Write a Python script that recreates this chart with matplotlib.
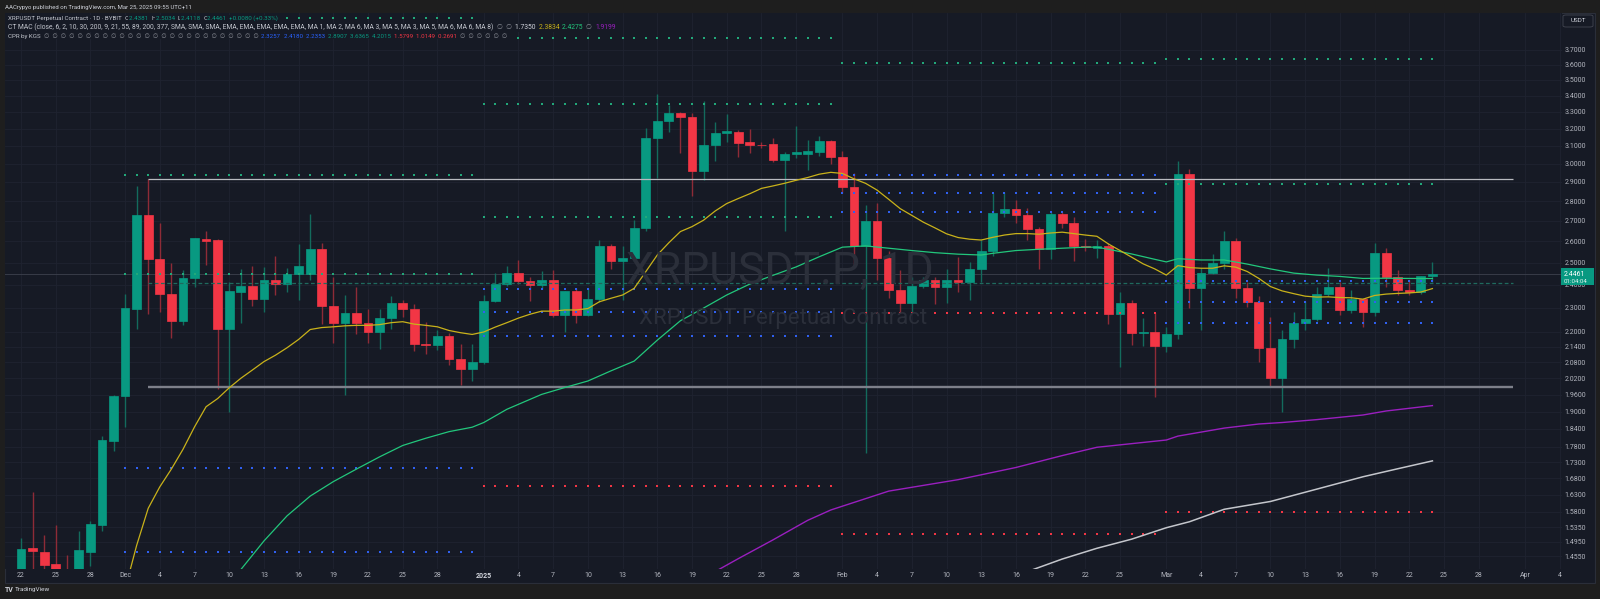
import numpy as np
import pandas as pd
import matplotlib
matplotlib.use("Agg")
import matplotlib.pyplot as plt
from matplotlib.patches import Rectangle, FancyBboxPatch
from matplotlib.ticker import NullLocator, NullFormatter, FixedLocator, FixedFormatter

plt.rcParams['font.family'] = ['Roboto', 'DejaVu Sans']

# ---------------- DATA ----------------
start_date = "2024-11-22"
opens = [1.360, 1.478, 1.467, 1.434, 1.400, 1.390, 1.467, 1.543, 1.801, 1.954,
         2.297, 2.727, 2.515, 2.359, 2.246, 2.428, 2.612, 2.604, 2.213, 2.370,
         2.395, 2.339, 2.422, 2.402, 2.448, 2.447, 2.565, 2.307, 2.235, 2.278,
         2.235, 2.201, 2.258, 2.322, 2.297, 2.153, 2.147, 2.182, 2.092, 2.056,
         2.083, 2.330, 2.402, 2.454, 2.418, 2.397, 2.419, 2.270, 2.373, 2.270,
         2.339, 2.577, 2.508, 2.523, 2.666, 3.142, 3.245, 3.291, 3.268, 2.959,
         3.104, 3.175, 3.182, 3.120, 3.107, 3.108, 3.020, 3.055, 3.054, 3.066,
         3.128, 3.037, 2.876, 2.579, 2.699, 2.523, 2.379, 2.322, 2.395, 2.419,
         2.391, 2.422, 2.413, 2.471, 2.556, 2.738, 2.761, 2.727, 2.659, 2.563,
         2.736, 2.687, 2.576, 2.570, 2.576, 2.275, 2.322, 2.195, 2.200, 2.144,
         2.191, 2.941, 2.384, 2.454, 2.496, 2.601, 2.384, 2.326, 2.137, 2.020,
         2.172, 2.238, 2.252, 2.358, 2.388, 2.291, 2.336, 2.283, 2.545, 2.435,
         2.378, 2.370, 2.4381]
highs = [1.504, 1.639, 1.514, 1.541, 1.460, 1.525, 1.553, 1.818, 1.960, 2.358,
         2.879, 2.914, 2.690, 2.499, 2.466, 2.618, 2.651, 2.609, 2.414, 2.470,
         2.484, 2.480, 2.532, 2.473, 2.587, 2.732, 2.590, 2.436, 2.355, 2.390,
         2.294, 2.294, 2.352, 2.333, 2.316, 2.242, 2.206, 2.194, 2.152, 2.152,
         2.355, 2.451, 2.484, 2.510, 2.435, 2.461, 2.466, 2.373, 2.384, 2.385,
         2.606, 2.585, 2.577, 2.703, 3.205, 3.408, 3.343, 3.300, 3.290, 3.367,
         3.241, 3.285, 3.190, 3.198, 3.120, 3.142, 3.066, 3.216, 3.132, 3.154,
         3.134, 3.072, 2.951, 2.781, 2.788, 2.556, 2.466, 2.435, 2.435, 2.435,
         2.470, 2.526, 2.502, 2.606, 2.842, 2.845, 2.805, 2.763, 2.667, 2.745,
         2.745, 2.717, 2.612, 2.605, 2.590, 2.366, 2.333, 2.256, 2.277, 2.221,
         3.015, 2.970, 2.475, 2.542, 2.649, 2.618, 2.414, 2.350, 2.260, 2.210,
         2.281, 2.330, 2.391, 2.476, 2.414, 2.377, 2.340, 2.593, 2.567, 2.466,
         2.423, 2.440, 2.5034]
lows = [1.330, 1.400, 1.410, 1.380, 1.330, 1.370, 1.430, 1.526, 1.767, 1.847,
        2.214, 2.273, 2.283, 2.174, 2.228, 2.388, 2.487, 1.980, 1.899, 2.235,
        2.309, 2.283, 2.355, 2.367, 2.333, 2.423, 2.232, 2.157, 1.958, 2.190,
        2.157, 2.131, 2.214, 2.260, 2.125, 2.114, 2.128, 2.071, 1.995, 2.011,
        2.074, 2.326, 2.395, 2.403, 2.330, 2.382, 2.262, 2.198, 2.235, 2.265,
        2.326, 2.471, 2.333, 2.507, 2.651, 2.923, 3.180, 3.060, 2.827, 2.910,
        3.015, 3.120, 3.035, 3.060, 3.090, 3.011, 2.651, 3.030, 2.965, 3.040,
        3.000, 2.842, 2.480, 1.761, 2.423, 2.341, 2.277, 2.277, 2.385, 2.315,
        2.322, 2.370, 2.333, 2.412, 2.532, 2.717, 2.690, 2.606, 2.470, 2.515,
        2.662, 2.507, 2.556, 2.523, 2.232, 2.061, 2.148, 2.144, 1.950, 2.121,
        2.172, 2.298, 2.206, 2.450, 2.469, 2.343, 2.302, 2.083, 1.991, 1.899,
        2.135, 2.210, 2.245, 2.350, 2.270, 2.280, 2.221, 2.266, 2.388, 2.355,
        2.357, 2.360, 2.4118]
closes = [1.474, 1.470, 1.432, 1.400, 1.390, 1.472, 1.544, 1.803, 1.954, 2.298,
          2.727, 2.515, 2.360, 2.246, 2.428, 2.614, 2.600, 2.213, 2.372, 2.395,
          2.339, 2.422, 2.402, 2.448, 2.484, 2.565, 2.309, 2.238, 2.278, 2.235,
          2.201, 2.258, 2.322, 2.297, 2.153, 2.147, 2.182, 2.092, 2.056, 2.083,
          2.330, 2.402, 2.454, 2.418, 2.397, 2.419, 2.270, 2.373, 2.270, 2.339,
          2.577, 2.508, 2.523, 2.666, 3.142, 3.246, 3.294, 3.268, 2.959, 3.104,
          3.172, 3.185, 3.118, 3.102, 3.103, 3.018, 3.053, 3.062, 3.069, 3.128,
          3.035, 2.875, 2.579, 2.699, 2.523, 2.379, 2.322, 2.395, 2.419, 2.391,
          2.422, 2.413, 2.471, 2.556, 2.739, 2.761, 2.731, 2.659, 2.562, 2.736,
          2.687, 2.576, 2.571, 2.578, 2.275, 2.322, 2.194, 2.200, 2.144, 2.192,
          2.941, 2.384, 2.454, 2.496, 2.601, 2.384, 2.326, 2.137, 2.020, 2.172,
          2.238, 2.252, 2.358, 2.388, 2.291, 2.336, 2.283, 2.545, 2.435, 2.377,
          2.370, 2.437, 2.4461]

# moving averages (day index from start_date, value)
ma_yellow_days = list(range(9, 123))
ma_yellow = [1.370, 1.485, 1.590, 1.654, 1.709, 1.772, 1.847, 1.917, 1.946, 1.985,
             2.020, 2.051, 2.083, 2.108, 2.137, 2.170, 2.210, 2.218, 2.221, 2.225,
             2.227, 2.227, 2.230, 2.238, 2.242, 2.232, 2.227, 2.221, 2.206, 2.197,
             2.190, 2.200, 2.220, 2.238, 2.257, 2.273, 2.286, 2.286, 2.291, 2.291,
             2.297, 2.326, 2.341, 2.355, 2.384, 2.458, 2.535, 2.593, 2.647, 2.671,
             2.703, 2.749, 2.787, 2.813, 2.838, 2.866, 2.879, 2.893, 2.909, 2.924,
             2.942, 2.952, 2.946, 2.917, 2.893, 2.857, 2.809, 2.761, 2.727, 2.693,
             2.665, 2.636, 2.618, 2.610, 2.606, 2.619, 2.630, 2.637, 2.637, 2.634,
             2.640, 2.644, 2.637, 2.630, 2.624, 2.587, 2.556, 2.525, 2.494, 2.471,
             2.443, 2.486, 2.477, 2.474, 2.474, 2.485, 2.479, 2.459, 2.428, 2.392,
             2.373, 2.361, 2.350, 2.346, 2.347, 2.344, 2.343, 2.337, 2.353, 2.359,
             2.362, 2.364, 2.368, 2.383]
ma_green_days = [19, 20, 21, 23, 25, 27, 29, 31, 33, 35, 37, 39, 40, 42, 45, 47, 49, 51, 53, 55,
                 57, 59, 61, 63, 65, 67, 69, 71, 73, 75, 77, 79, 81, 83, 84, 86, 88, 90, 92, 93,
                 94, 96, 98, 99, 100, 102, 104, 106, 108, 110, 112, 114, 116, 118, 120, 122]
ma_green = [1.420, 1.458, 1.497, 1.568, 1.626, 1.670, 1.709, 1.748, 1.785, 1.809,
            1.831, 1.846, 1.862, 1.908, 1.961, 1.986, 2.010, 2.048, 2.085, 2.167,
            2.246, 2.299, 2.355, 2.403, 2.442, 2.480, 2.527, 2.572, 2.578, 2.567,
            2.556, 2.546, 2.539, 2.535, 2.543, 2.556, 2.562, 2.567, 2.572, 2.572,
            2.562, 2.540, 2.515, 2.503, 2.518, 2.512, 2.512, 2.493, 2.471, 2.452,
            2.443, 2.437, 2.428, 2.429, 2.428, 2.4275]
ma_purple_days = [60, 62, 65, 68, 70, 75, 81, 86, 90, 93, 99, 100, 104, 107, 109, 112, 116, 118, 122]
ma_purple = [1.415, 1.449, 1.500, 1.555, 1.585, 1.641, 1.676, 1.714, 1.752, 1.779,
             1.803, 1.816, 1.843, 1.857, 1.862, 1.872, 1.888, 1.902, 1.921]
ma_white_days = [87, 90, 93, 96, 99, 101, 104, 108, 112, 116, 119, 122]
ma_white = [1.415, 1.448, 1.477, 1.502, 1.534, 1.551, 1.587, 1.610, 1.647, 1.685, 1.710, 1.735]

# monthly CPR levels (first day, last day of each month shown)
cpr_first = [9, 40, 71, 99]
cpr_last = [39, 70, 98, 122]
cpr_resist = [[2.447, 2.940, 3.920], [2.717, 3.348, 3.780], [3.608], [2.8907, 3.6365]]
cpr_pivot = [[1.467, 1.711], [2.182, 2.283, 2.381], [2.742, 2.840, 2.937], [2.2353, 2.3257, 2.4180]]
cpr_support = [[], [1.656], [2.277, 1.517], [1.5799]]

# horizontal drawn lines: price, first day, last day
hl_prices = [2.914, 1.987, 2.409]
hl_first = [11, 11, 11]
hl_last = [129, 129, 129]

ytick_vals = [3.7, 3.6, 3.5, 3.4, 3.3, 3.2, 3.1, 3.0, 2.9, 2.8, 2.7, 2.6, 2.5, 2.4, 2.3, 2.2,
              2.14, 2.08, 2.02, 1.96, 1.90, 1.84, 1.78, 1.73, 1.68, 1.63, 1.58, 1.535, 1.495, 1.455]
xtick_dates = ["2024-11-22", "2024-11-25", "2024-11-28", "2024-12-01", "2024-12-04", "2024-12-07",
               "2024-12-10", "2024-12-13", "2024-12-16", "2024-12-19", "2024-12-22", "2024-12-25",
               "2024-12-28", "2025-01-01", "2025-01-04", "2025-01-07", "2025-01-10", "2025-01-13",
               "2025-01-16", "2025-01-19", "2025-01-22", "2025-01-25", "2025-01-28", "2025-02-01",
               "2025-02-04", "2025-02-07", "2025-02-10", "2025-02-13", "2025-02-16", "2025-02-19",
               "2025-02-22", "2025-02-25", "2025-03-01", "2025-03-04", "2025-03-07", "2025-03-10",
               "2025-03-13", "2025-03-16", "2025-03-19", "2025-03-22", "2025-03-25", "2025-03-28",
               "2025-04-01", "2025-04-04"]
xtick_labels = ["22", "25", "28", "Dec", "4", "7", "10", "13", "16", "19", "22", "25", "28",
                "2025", "4", "7", "10", "13", "16", "19", "22", "25", "28", "Feb", "4", "7", "10",
                "13", "16", "19", "22", "25", "Mar", "4", "7", "10", "13", "16", "19", "22", "25",
                "28", "Apr", "4"]

# ---------------- STYLE ----------------
W, H = 1600, 599
BG = '#161a25'
UP, DN = '#089981', '#f23645'
UPW, DNW = '#136b5d', '#8e2b37'
C_YEL, C_GRN, C_PUR, C_WHT = '#c9b21a', '#22c77c', '#9a1fbf', '#c4c6cc'
D_GRN, D_BLU, D_RED = '#22a87a', '#3060f0', '#f23645'
TXT = '#c3c6ce'

fig = plt.figure(figsize=(16, 5.99), dpi=100)
fig.patch.set_facecolor('#1e1e1e')
fig.add_artist(Rectangle((5 / W, (H - 583) / H), 1590 / W, 570 / H, transform=fig.transFigure,
                         facecolor=BG, edgecolor='#2a2e39', lw=0.8, zorder=0))
ax = fig.add_axes([5 / W, (H - 569) / H, 1557 / W, 556 / H])
ax.set_facecolor(BG)
ax.set_yscale('log')
ax.set_xlim(-1.38, 133.2)
ax.set_ylim(1.4217, 3.959)
for s in ax.spines.values():
    s.set_visible(False)

ax.yaxis.set_major_locator(FixedLocator(ytick_vals))
ax.yaxis.set_major_formatter(FixedFormatter([f"{v:.4f}" for v in ytick_vals]))
ax.yaxis.set_minor_locator(NullLocator())
ax.yaxis.set_minor_formatter(NullFormatter())
ax.yaxis.tick_right()
ax.tick_params(axis='y', length=0, pad=1.6, labelsize=5, labelcolor='#b2b5be')

t0 = pd.Timestamp(start_date)
xtick_days = [(pd.Timestamp(d) - t0).days for d in xtick_dates]
ax.set_xticks(xtick_days)
ax.set_xticklabels(xtick_labels)
ax.tick_params(axis='x', length=0, pad=2.5, labelsize=5, labelcolor='#b2b5be')
for lab in ax.get_xticklabels():
    if lab.get_text() == '2025':
        lab.set_fontweight('bold')
        lab.set_color('#d1d4dc')
ax.grid(True, color='#1f2330', lw=0.6, zorder=0)
ax.set_axisbelow(True)

# watermark
fig.text(780 / W, 1 - 271.5 / H, "XRPUSDT.P, 1D", fontsize=32, color='#2b2f3a',
         ha='center', va='center', zorder=0.5)
fig.text(783 / W, 1 - 318.5 / H, "XRPUSDT Perpetual Contract", fontsize=16, color='#2b2f3a',
         ha='center', va='center', zorder=0.5)

# last price line
ax.axhline(closes[-1], color='#383c48', lw=0.7, zorder=1)

# candles
o, h, l, c = map(np.array, (opens, highs, lows, closes))
days = np.arange(len(o))
up = c >= o
ax.vlines(days, l, h, colors=np.where(up, UPW, DNW), lw=1.0, zorder=3)
bot = np.minimum(o, c)
top = np.maximum(o, c)
ax.bar(days, top - bot, bottom=bot, width=0.76, color=np.where(up, UP, DN),
       edgecolor=np.where(up, UP, DN), lw=0.5, zorder=4)

# horizontal lines
hl_styles = [dict(color='#b8bac0', lw=0.9, ls='-'),
             dict(color='#7d808a', lw=1.7, ls='-'),
             dict(color='#1f6a5e', lw=0.9, ls=(0, (3, 2)))]
for p, a, b, st in zip(hl_prices, hl_first, hl_last, hl_styles):
    ax.hlines(p, a, b, zorder=5, **st)

# CPR dots
for a, b, rs, ps, ss in zip(cpr_first, cpr_last, cpr_resist, cpr_pivot, cpr_support):
    dd = np.arange(a, b + 1)
    for lv_list, col in ((rs, D_GRN), (ps, D_BLU), (ss, D_RED)):
        for lv in lv_list:
            ax.plot(dd, np.full(len(dd), lv), ls='none', marker='s', ms=1.5, mew=0,
                    color=col, zorder=6)

# moving averages
ax.plot(ma_white_days, ma_white, color=C_WHT, lw=1.1, zorder=7)
ax.plot(ma_purple_days, ma_purple, color=C_PUR, lw=1.0, zorder=7)
ax.plot(ma_green_days, ma_green, color=C_GRN, lw=0.9, zorder=7)
ax.plot(ma_yellow_days, ma_yellow, color=C_YEL, lw=0.9, zorder=7)

# ---------------- TEXT OVERLAYS ----------------
renderer = fig.canvas.get_renderer()


def row(pieces, x0, y0, size):
    x = x0
    for txt, col in pieces:
        t = fig.text(x / W, 1 - y0 / H, txt, color=col, fontsize=size, ha='left', va='center',
                     zorder=20, bbox=dict(facecolor=BG, edgecolor='none', pad=0.4))
        x += t.get_window_extent(renderer=renderer).width


fig.text(5 / W, 1 - 7 / H, "AACrypyo published on TradingView.com, Mar 25, 2025 09:55 UTC+11",
         fontsize=4.3, color='#d1d4dc', ha='left', va='center')
row([("XRPUSDT Perpetual Contract · 1D · BYBIT  ", TXT), ("O", TXT), ("2.4381  ", UP),
     ("H", TXT), ("2.5034  ", UP), ("L", TXT), ("2.4118  ", UP), ("C", TXT), ("2.4461  ", UP),
     ("+0.0080 (+0.33%)", UP)], 8, 18.5, 4.5)
row([("CT MAC (close, 6, 2, 10, 30, 200, 9, 21, 55, 89, 200, 377, SMA, SMA, SMA, EMA, EMA, EMA, "
      "EMA, EMA, MA 1, MA 2, MA 6, MA 3, MA 5, MA 3, MA 5, MA 6, MA 6, MA 8)  ", TXT),
     ("∅  ∅  ", '#8a8d96'), ("1.7350  ", '#d1d4dc'), ("2.3834  ", C_YEL), ("2.4275  ", C_GRN),
     ("∅  ", '#8a8d96'), ("1.9199", C_PUR)], 8, 27.7, 4.85)
row([("CPR by KGS  ", TXT), ("∅  " * 26, '#8a8d96'), ("2.3257  ", '#2962ff'),
     ("2.4180  ", '#2962ff'), ("2.2353  ", '#2962ff'), ("2.8907  ", UP), ("3.6365  ", UP),
     ("4.2015  ", UP), ("1.5799  ", DN), ("1.0149  ", DN), ("0.2691  ", DN),
     ("∅  " * 6, '#8a8d96')], 8, 36.3, 4.4)

# USDT box
fig.add_artist(FancyBboxPatch((1563 / W, 1 - 27 / H), 30 / W, 12 / H, transform=fig.transFigure,
                              boxstyle='round,pad=0,rounding_size=0.002', facecolor=BG,
                              edgecolor='#434651', lw=0.6, zorder=20))
fig.text(1578 / W, 1 - 21 / H, "USDT", fontsize=4.5, color='#d1d4dc', ha='center', va='center',
         zorder=21)

# last price label
yp = ax.transData.transform((0, closes[-1]))[1]
fig.add_artist(Rectangle((1561 / W, (yp - 10.7) / H), 33 / W, 17.4 / H, transform=fig.transFigure,
                         facecolor=UP, edgecolor='none', zorder=20))
fig.text(1564 / W, yp / H, f"{closes[-1]:.4f}", fontsize=5, color='white', ha='left',
         va='center', zorder=21)
fig.text(1564 / W, (yp - 6.6) / H, "01:04:04", fontsize=4.4, color='#e0f2ee', ha='left',
         va='center', zorder=21)

# TradingView footer
fig.text(5 / W, 1 - 590 / H, "TV", fontsize=5, fontweight='bold', color='#d1d4dc',
         ha='left', va='center')
fig.text(15 / W, 1 - 590 / H, "TradingView", fontsize=4.6, color='#d1d4dc', ha='left',
         va='center')

fig.savefig("out.png", dpi=100, facecolor=fig.get_facecolor())
